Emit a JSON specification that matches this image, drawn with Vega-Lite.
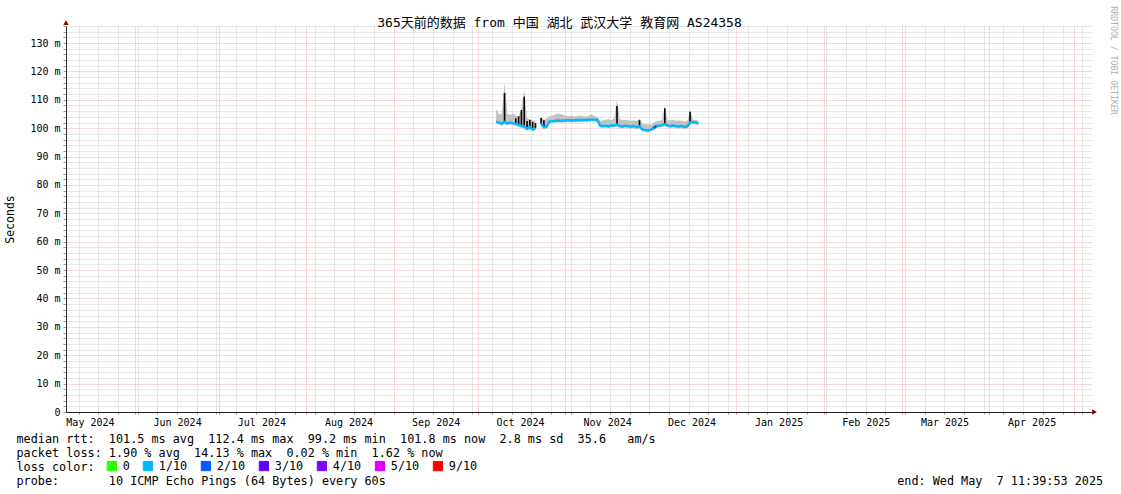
{
  "$schema": "https://vega.github.io/schema/vega-lite/v6.json",
  "width": 1026,
  "height": 386,
  "autosize": "none",
  "padding": {"left": 66, "top": 26, "right": 29, "bottom": 82},
  "background": "#ffffff",
  "config": {
    "view": {"stroke": null},
    "font": "DejaVu Sans Mono",
    "axis": {
      "labelFont": "DejaVu Sans Mono",
      "titleFont": "DejaVu Sans Mono",
      "titleFontWeight": "normal",
      "labelColor": "#000000",
      "titleColor": "#000000"
    }
  },
  "datasets": {
    "rtt": [
      {"t": "2024-10-07T12:00:00Z", "med": 102.3, "lo": 101.6, "hi": 106.8, "spike": null, "loss": "1/10", "seg": "a"},
      {"t": "2024-10-08T12:00:00Z", "med": 102.0, "lo": 101.3, "hi": 105.0, "spike": null, "loss": "1/10", "seg": "a"},
      {"t": "2024-10-09T12:00:00Z", "med": 101.6, "lo": 100.9, "hi": 104.8, "spike": null, "loss": "1/10", "seg": "a"},
      {"t": "2024-10-10T12:00:00Z", "med": 102.2, "lo": 101.5, "hi": 116.0, "spike": 112.4, "loss": "1/10", "seg": "a"},
      {"t": "2024-10-11T12:00:00Z", "med": 101.7, "lo": 101.0, "hi": 105.0, "spike": null, "loss": "1/10", "seg": "a"},
      {"t": "2024-10-12T12:00:00Z", "med": 102.0, "lo": 101.3, "hi": 104.6, "spike": null, "loss": "1/10", "seg": "a"},
      {"t": "2024-10-13T12:00:00Z", "med": 101.8, "lo": 101.1, "hi": 105.2, "spike": null, "loss": "1/10", "seg": "a"},
      {"t": "2024-10-14T12:00:00Z", "med": 101.5, "lo": 100.8, "hi": 104.5, "spike": 103.5, "loss": "1/10", "seg": "a"},
      {"t": "2024-10-15T12:00:00Z", "med": 101.2, "lo": 100.5, "hi": 104.0, "spike": 104.2, "loss": "1/10", "seg": "a"},
      {"t": "2024-10-16T12:00:00Z", "med": 100.8, "lo": 100.1, "hi": 106.8, "spike": 106.4, "loss": "1/10", "seg": "a"},
      {"t": "2024-10-17T12:00:00Z", "med": 100.6, "lo": 99.9, "hi": 113.5, "spike": 111.1, "loss": "1/10", "seg": "a"},
      {"t": "2024-10-18T12:00:00Z", "med": 99.8, "lo": 99.1, "hi": 103.5, "spike": 102.5, "loss": "1/10", "seg": "a"},
      {"t": "2024-10-19T12:00:00Z", "med": 100.4, "lo": 99.7, "hi": 103.0, "spike": 103.0, "loss": "1/10", "seg": "a"},
      {"t": "2024-10-20T12:00:00Z", "med": 99.6, "lo": 98.9, "hi": 102.8, "spike": 102.2, "loss": "1/10", "seg": "a"},
      {"t": "2024-10-21T12:00:00Z", "med": 100.0, "lo": 99.3, "hi": 102.6, "spike": 101.8, "loss": "1/10", "seg": "a"},
      {"t": "2024-10-22T12:00:00Z", "med": null, "lo": null, "hi": null, "spike": null, "loss": "1/10", "seg": "gap"},
      {"t": "2024-10-23T12:00:00Z", "med": 101.6, "lo": 100.9, "hi": 104.0, "spike": 103.6, "loss": "1/10", "seg": "b"},
      {"t": "2024-10-24T12:00:00Z", "med": 100.3, "lo": 99.6, "hi": 103.0, "spike": 102.8, "loss": "1/10", "seg": "b"},
      {"t": "2024-10-25T12:00:00Z", "med": 100.6, "lo": 99.9, "hi": 103.4, "spike": null, "loss": "1/10", "seg": "b"},
      {"t": "2024-10-26T12:00:00Z", "med": 102.4, "lo": 101.7, "hi": 104.2, "spike": null, "loss": "1/10", "seg": "b"},
      {"t": "2024-10-27T12:00:00Z", "med": 102.5, "lo": 101.8, "hi": 104.4, "spike": null, "loss": "1/10", "seg": "b"},
      {"t": "2024-10-28T12:00:00Z", "med": 102.6, "lo": 101.9, "hi": 104.8, "spike": null, "loss": "1/10", "seg": "b"},
      {"t": "2024-10-29T12:00:00Z", "med": 102.7, "lo": 102.0, "hi": 105.2, "spike": null, "loss": "1/10", "seg": "b"},
      {"t": "2024-10-30T12:00:00Z", "med": 102.6, "lo": 101.9, "hi": 105.0, "spike": null, "loss": "1/10", "seg": "b"},
      {"t": "2024-10-31T12:00:00Z", "med": 102.7, "lo": 102.0, "hi": 104.6, "spike": null, "loss": "1/10", "seg": "b"},
      {"t": "2024-11-01T12:00:00Z", "med": 102.8, "lo": 102.1, "hi": 104.4, "spike": null, "loss": "1/10", "seg": "b"},
      {"t": "2024-11-02T12:00:00Z", "med": 102.8, "lo": 102.1, "hi": 104.2, "spike": null, "loss": "1/10", "seg": "b"},
      {"t": "2024-11-03T12:00:00Z", "med": 102.7, "lo": 102.0, "hi": 104.4, "spike": null, "loss": "1/10", "seg": "b"},
      {"t": "2024-11-04T12:00:00Z", "med": 102.8, "lo": 102.1, "hi": 104.1, "spike": null, "loss": "1/10", "seg": "b"},
      {"t": "2024-11-05T12:00:00Z", "med": 102.9, "lo": 102.2, "hi": 104.3, "spike": null, "loss": "1/10", "seg": "b"},
      {"t": "2024-11-06T12:00:00Z", "med": 102.9, "lo": 102.2, "hi": 104.5, "spike": null, "loss": "1/10", "seg": "b"},
      {"t": "2024-11-07T12:00:00Z", "med": 103.0, "lo": 102.3, "hi": 104.2, "spike": null, "loss": "1/10", "seg": "b"},
      {"t": "2024-11-08T12:00:00Z", "med": 102.9, "lo": 102.2, "hi": 104.0, "spike": null, "loss": "1/10", "seg": "b"},
      {"t": "2024-11-09T12:00:00Z", "med": 103.0, "lo": 102.3, "hi": 104.4, "spike": null, "loss": "1/10", "seg": "b"},
      {"t": "2024-11-10T12:00:00Z", "med": 103.1, "lo": 102.4, "hi": 104.8, "spike": null, "loss": "1/10", "seg": "b"},
      {"t": "2024-11-11T12:00:00Z", "med": 103.0, "lo": 102.3, "hi": 104.2, "spike": null, "loss": "1/10", "seg": "b"},
      {"t": "2024-11-12T12:00:00Z", "med": 102.9, "lo": 102.2, "hi": 104.0, "spike": null, "loss": "1/10", "seg": "b"},
      {"t": "2024-11-13T12:00:00Z", "med": 100.9, "lo": 100.2, "hi": 102.6, "spike": null, "loss": "1/10", "seg": "b"},
      {"t": "2024-11-14T12:00:00Z", "med": 100.8, "lo": 100.1, "hi": 102.8, "spike": null, "loss": "1/10", "seg": "b"},
      {"t": "2024-11-15T12:00:00Z", "med": 100.9, "lo": 100.2, "hi": 103.0, "spike": null, "loss": "1/10", "seg": "b"},
      {"t": "2024-11-16T12:00:00Z", "med": 100.7, "lo": 100.0, "hi": 103.2, "spike": null, "loss": "1/10", "seg": "b"},
      {"t": "2024-11-17T12:00:00Z", "med": 101.0, "lo": 100.3, "hi": 102.8, "spike": null, "loss": "1/10", "seg": "b"},
      {"t": "2024-11-18T12:00:00Z", "med": 100.9, "lo": 100.2, "hi": 103.4, "spike": null, "loss": "1/10", "seg": "b"},
      {"t": "2024-11-19T12:00:00Z", "med": 101.3, "lo": 100.6, "hi": 110.0, "spike": 107.8, "loss": "1/10", "seg": "b"},
      {"t": "2024-11-20T12:00:00Z", "med": 100.8, "lo": 100.1, "hi": 103.2, "spike": null, "loss": "1/10", "seg": "b"},
      {"t": "2024-11-21T12:00:00Z", "med": 100.6, "lo": 99.9, "hi": 102.9, "spike": null, "loss": "1/10", "seg": "b"},
      {"t": "2024-11-22T12:00:00Z", "med": 100.9, "lo": 100.2, "hi": 103.0, "spike": null, "loss": "1/10", "seg": "b"},
      {"t": "2024-11-23T12:00:00Z", "med": 100.7, "lo": 100.0, "hi": 102.7, "spike": null, "loss": "1/10", "seg": "b"},
      {"t": "2024-11-24T12:00:00Z", "med": 100.5, "lo": 99.8, "hi": 102.6, "spike": null, "loss": "1/10", "seg": "b"},
      {"t": "2024-11-25T12:00:00Z", "med": 100.8, "lo": 100.1, "hi": 102.8, "spike": null, "loss": "1/10", "seg": "b"},
      {"t": "2024-11-26T12:00:00Z", "med": 100.3, "lo": 99.6, "hi": 102.4, "spike": null, "loss": "1/10", "seg": "b"},
      {"t": "2024-11-27T12:00:00Z", "med": 100.6, "lo": 99.9, "hi": 103.4, "spike": 102.8, "loss": "1/10", "seg": "b"},
      {"t": "2024-11-28T12:00:00Z", "med": 99.6, "lo": 98.9, "hi": 101.6, "spike": null, "loss": "1/10", "seg": "b"},
      {"t": "2024-11-29T12:00:00Z", "med": 99.4, "lo": 98.7, "hi": 101.3, "spike": null, "loss": "1/10", "seg": "b"},
      {"t": "2024-11-30T12:00:00Z", "med": 99.2, "lo": 98.5, "hi": 101.4, "spike": null, "loss": "1/10", "seg": "b"},
      {"t": "2024-12-01T12:00:00Z", "med": 99.5, "lo": 98.8, "hi": 101.2, "spike": null, "loss": "1/10", "seg": "b"},
      {"t": "2024-12-02T12:00:00Z", "med": 100.0, "lo": 99.3, "hi": 101.8, "spike": null, "loss": "2/10", "seg": "b"},
      {"t": "2024-12-03T12:00:00Z", "med": 100.8, "lo": 100.1, "hi": 102.4, "spike": null, "loss": "2/10", "seg": "b"},
      {"t": "2024-12-04T12:00:00Z", "med": 100.9, "lo": 100.2, "hi": 102.6, "spike": null, "loss": "1/10", "seg": "b"},
      {"t": "2024-12-05T12:00:00Z", "med": 101.1, "lo": 100.4, "hi": 102.8, "spike": null, "loss": "1/10", "seg": "b"},
      {"t": "2024-12-06T12:00:00Z", "med": 101.4, "lo": 100.7, "hi": 108.0, "spike": 107.0, "loss": "1/10", "seg": "b"},
      {"t": "2024-12-07T12:00:00Z", "med": 101.0, "lo": 100.3, "hi": 102.7, "spike": null, "loss": "1/10", "seg": "b"},
      {"t": "2024-12-08T12:00:00Z", "med": 100.8, "lo": 100.1, "hi": 102.8, "spike": null, "loss": "1/10", "seg": "b"},
      {"t": "2024-12-09T12:00:00Z", "med": 101.0, "lo": 100.3, "hi": 103.0, "spike": null, "loss": "1/10", "seg": "b"},
      {"t": "2024-12-10T12:00:00Z", "med": 100.7, "lo": 100.0, "hi": 102.6, "spike": null, "loss": "1/10", "seg": "b"},
      {"t": "2024-12-11T12:00:00Z", "med": 100.6, "lo": 99.9, "hi": 102.7, "spike": null, "loss": "1/10", "seg": "b"},
      {"t": "2024-12-12T12:00:00Z", "med": 100.8, "lo": 100.1, "hi": 102.6, "spike": null, "loss": "1/10", "seg": "b"},
      {"t": "2024-12-13T12:00:00Z", "med": 100.4, "lo": 99.7, "hi": 102.3, "spike": null, "loss": "1/10", "seg": "b"},
      {"t": "2024-12-14T12:00:00Z", "med": 100.6, "lo": 99.9, "hi": 102.5, "spike": null, "loss": "1/10", "seg": "b"},
      {"t": "2024-12-15T12:00:00Z", "med": 102.0, "lo": 101.3, "hi": 106.6, "spike": 105.8, "loss": "1/10", "seg": "b"},
      {"t": "2024-12-16T12:00:00Z", "med": 102.2, "lo": 101.5, "hi": 103.0, "spike": null, "loss": "1/10", "seg": "b"},
      {"t": "2024-12-17T12:00:00Z", "med": 102.0, "lo": 101.3, "hi": 102.9, "spike": null, "loss": "1/10", "seg": "b"},
      {"t": "2024-12-18T12:00:00Z", "med": 101.8, "lo": 101.1, "hi": 102.6, "spike": null, "loss": "1/10", "seg": "b"}
    ],
    "arrows": [
      {"t": "2025-05-08T09:00:00Z", "v": 0, "dir": "x"},
      {"t": "2024-05-07T11:39:53Z", "v": 137.2, "dir": "y"}
    ]
  },
  "layer": [
    {
      "data": {"name": "rtt"},
      "mark": {"type": "area", "color": "#c2c2c2"},
      "encoding": {
        "x": {
          "field": "t",
          "type": "temporal",
          "scale": {
            "type": "utc",
            "nice": false,
            "domain": [
              {"year": 2024, "month": 5, "date": 7, "hours": 11, "minutes": 39, "seconds": 53, "utc": true},
              {"year": 2025, "month": 5, "date": 7, "hours": 11, "minutes": 39, "seconds": 53, "utc": true}
            ]
          },
          "axis": {
            "orient": "bottom",
            "tickCount": {"interval": "day", "step": 1},
            "grid": true,
            "gridDash": [1, 1],
            "gridColor": {"condition": {"test": "utcdate(datum.value) == 1", "value": "#efb0b0"}, "value": "#d0d0d0"},
            "gridOpacity": {"condition": {"test": "utcdate(datum.value) == 1 || utcday(datum.value) == 0", "value": 1}, "value": 0},
            "ticks": true,
            "tickSize": 2,
            "tickColor": {"condition": {"test": "utcdate(datum.value) == 1", "value": "#dd7777"}, "value": "#999999"},
            "tickOpacity": {"condition": {"test": "utcdate(datum.value) == 1 || utcday(datum.value) == 0", "value": 1}, "value": 0},
            "labelExpr": "utcdate(datum.value) == 16 ? utcFormat(datum.value, '%b %Y') : ''",
            "labelOverlap": false,
            "labelFlush": false,
            "labelBound": false,
            "labelFontSize": 10,
            "labelPadding": 3,
            "domainColor": "#202020",
            "title": [
              "median rtt:\u00a0\u00a0101.5 ms avg\u00a0\u00a0112.4 ms max\u00a0\u00a099.2 ms min\u00a0\u00a0101.8 ms now\u00a0\u00a02.8 ms sd\u00a0\u00a035.6\u00a0\u00a0\u00a0am/s",
              "packet loss: 1.90 % avg\u00a0\u00a014.13 % max\u00a0\u00a00.02 % min\u00a0\u00a01.62 % now",
              "loss color:",
              "probe:\u00a0\u00a0\u00a0\u00a0\u00a0\u00a0\u00a010 ICMP Echo Pings (64 Bytes) every 60s\u00a0\u00a0\u00a0\u00a0\u00a0\u00a0\u00a0\u00a0\u00a0\u00a0\u00a0\u00a0\u00a0\u00a0\u00a0\u00a0\u00a0\u00a0\u00a0\u00a0\u00a0\u00a0\u00a0\u00a0\u00a0\u00a0\u00a0\u00a0\u00a0\u00a0\u00a0\u00a0\u00a0\u00a0\u00a0\u00a0\u00a0\u00a0\u00a0\u00a0\u00a0\u00a0\u00a0\u00a0\u00a0\u00a0\u00a0\u00a0\u00a0\u00a0\u00a0\u00a0\u00a0\u00a0\u00a0\u00a0\u00a0\u00a0\u00a0\u00a0\u00a0\u00a0\u00a0\u00a0\u00a0\u00a0\u00a0\u00a0\u00a0\u00a0\u00a0\u00a0end: Wed May\u00a0\u00a07 11:39:53 2025"
            ],
            "titleX": -50,
            "titleY": 30,
            "titleAlign": "left",
            "titleAnchor": "start",
            "titleBaseline": "alphabetic",
            "titleFontSize": 11.8,
            "titleLineHeight": 14
          }
        },
        "y": {
          "field": "lo",
          "type": "quantitative",
          "scale": {"domain": [0, 136], "nice": false, "zero": false},
          "axis": {
            "orient": "left",
            "tickCount": 68,
            "grid": true,
            "gridDash": [1, 1],
            "gridColor": {"condition": {"test": "datum.value % 10 == 0", "value": "#efb0b0"}, "value": "#d0d0d0"},
            "ticks": true,
            "tickSize": 3,
            "tickColor": "#999999",
            "labelExpr": "datum.value % 10 == 0 ? (datum.value == 0 ? '0' : datum.value + ' m') : ''",
            "labelFontSize": 10,
            "labelPadding": 3,
            "labelOverlap": false,
            "labelBound": false,
            "labelFlush": false,
            "domainColor": "#303030",
            "title": "Seconds",
            "titleX": -56,
            "titleY": 193,
            "titleAngle": -90,
            "titleAlign": "center",
            "titleBaseline": "middle",
            "titleFontSize": 11.5
          }
        },
        "y2": {"field": "hi"},
        "detail": {"field": "seg"}
      }
    },
    {
      "data": {"name": "rtt"},
      "transform": [{"filter": "isValid(datum.spike)"}],
      "mark": {"type": "rule", "color": "#000000", "strokeWidth": 1.6},
      "encoding": {
        "x": {"field": "t", "type": "temporal", "axis": null},
        "y": {"field": "med", "type": "quantitative", "axis": null},
        "y2": {"field": "spike"}
      }
    },
    {
      "data": {"name": "rtt"},
      "mark": {"type": "line", "color": "#00b8ff", "strokeWidth": 2.4},
      "encoding": {
        "x": {"field": "t", "type": "temporal", "axis": null},
        "y": {"field": "med", "type": "quantitative", "axis": null},
        "detail": {"field": "seg"}
      }
    },
    {
      "data": {"name": "rtt"},
      "transform": [{"filter": "datum.loss != '1/10'"}],
      "mark": {"type": "line", "strokeWidth": 2.4},
      "encoding": {
        "x": {"field": "t", "type": "temporal", "axis": null},
        "y": {"field": "med", "type": "quantitative", "axis": null},
        "color": {
          "field": "loss",
          "type": "nominal",
          "scale": {
            "domain": ["0", "1/10", "2/10", "3/10", "4/10", "5/10", "9/10"],
            "range": ["#26ff00", "#00b8ff", "#0059ff", "#5e00ff", "#7e00ff", "#dd00ff", "#ff0000"]
          },
          "legend": {
            "orient": "none",
            "legendX": 40,
            "legendY": 434,
            "direction": "horizontal",
            "columns": 7,
            "title": null,
            "padding": 0,
            "columnPadding": 11,
            "labelFont": "DejaVu Sans Mono",
            "labelFontSize": 11.8,
            "labelColor": "#000000",
            "labelOffset": 5,
            "symbolType": "square",
            "symbolSize": 85,
            "symbolStrokeColor": "#000000",
            "symbolStrokeWidth": 1,
            "encode": {
              "symbols": {
                "update": {
                  "fill": {"scale": "color", "field": "value"},
                  "stroke": {"value": "#000000"},
                  "strokeWidth": {"value": 1},
                  "opacity": {"value": 1}
                }
              }
            }
          }
        }
      }
    },
    {
      "data": {"name": "arrows"},
      "mark": {"type": "point", "filled": true, "color": "#7f0000", "size": 28, "opacity": 1},
      "encoding": {
        "x": {
          "field": "t",
          "type": "temporal",
          "axis": {
            "orient": "top",
            "ticks": false,
            "labels": false,
            "domain": false,
            "grid": false,
            "title": "365天前的数据 from 中国 湖北 武汉大学 教育网 AS24358",
            "titleFont": "DejaVu Sans Mono, Noto Sans CJK SC",
            "titleFontSize": 13,
            "titleX": 493,
            "titleY": 0,
            "titleAlign": "center",
            "titleBaseline": "alphabetic"
          }
        },
        "y": {
          "field": "v",
          "type": "quantitative",
          "axis": {
            "orient": "right",
            "ticks": false,
            "labels": false,
            "domain": false,
            "grid": false,
            "title": "RRDTOOL / TOBI OETIKER",
            "titleFontSize": 8.2,
            "titleColor": "#b0b0b0",
            "titleX": 20,
            "titleY": 34,
            "titleAngle": 90,
            "titleAlign": "center",
            "titleBaseline": "middle"
          }
        },
        "shape": {
          "field": "dir",
          "type": "nominal",
          "scale": {"domain": ["x", "y"], "range": ["triangle-right", "triangle-up"]},
          "legend": null
        }
      }
    }
  ],
  "resolve": {"axis": {"x": "independent", "y": "independent"}}
}
